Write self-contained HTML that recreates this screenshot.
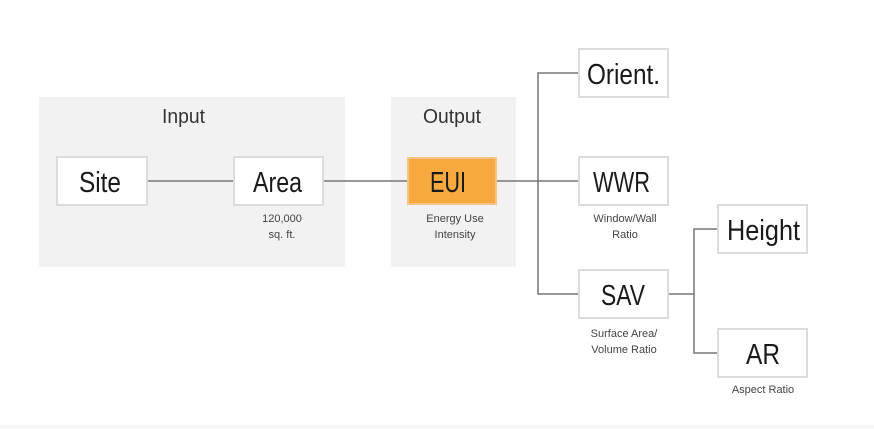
<!DOCTYPE html>
<html><head><meta charset="utf-8"><style>html,body{margin:0;padding:0;background:#fff}svg{display:block}</style></head>
<body>
<svg width="874" height="429" xmlns="http://www.w3.org/2000/svg" font-family="Liberation Sans, sans-serif">
<rect x="0" y="0" width="874" height="429" fill="#fff"/>
<rect x="0" y="425" width="874" height="4" fill="#f6f6f6"/>
<rect x="39" y="97" width="306" height="170" fill="#f2f2f2"/>
<rect x="391" y="97" width="125" height="170" fill="#f2f2f2"/>
<g stroke="#777" stroke-width="1.5" fill="none">
<line x1="147" y1="181" x2="234" y2="181"/>
<line x1="323" y1="181" x2="408" y2="181"/>
<line x1="496" y1="181" x2="579" y2="181"/>
<polyline points="579,73 538,73 538,294 579,294"/>
<line x1="668" y1="294" x2="694" y2="294"/>
<polyline points="718,229 694,229 694,353 718,353"/>
</g>
<g fill="#fff" stroke="#dcdcdc" stroke-width="2">
<rect x="57" y="157" width="90" height="48"/>
<rect x="234" y="157" width="89" height="48"/>
<rect x="579" y="49" width="89" height="48"/>
<rect x="579" y="157" width="89" height="48"/>
<rect x="579" y="270" width="89" height="48"/>
<rect x="718" y="205" width="89" height="48"/>
<rect x="718" y="329" width="89" height="48"/>
</g>
<rect x="408" y="158" width="88" height="46" fill="#f7a93e" stroke="#f3c486" stroke-width="2"/>
<g fill="#1a1a1a" font-size="29" lengthAdjust="spacingAndGlyphs">
<text x="79" y="192" textLength="42" lengthAdjust="spacingAndGlyphs">Site</text>
<text x="253" y="192" textLength="49" lengthAdjust="spacingAndGlyphs">Area</text>
<text x="430" y="192" textLength="36" lengthAdjust="spacingAndGlyphs">EUI</text>
<text x="587" y="84" textLength="73" lengthAdjust="spacingAndGlyphs">Orient.</text>
<text x="593" y="192" textLength="57" lengthAdjust="spacingAndGlyphs">WWR</text>
<text x="601" y="305" textLength="44" lengthAdjust="spacingAndGlyphs">SAV</text>
<text x="727" y="240" textLength="73" lengthAdjust="spacingAndGlyphs">Height</text>
<text x="746" y="364" textLength="34" lengthAdjust="spacingAndGlyphs">AR</text>
</g>
<g fill="#333" font-size="20">
<text x="162" y="123" textLength="43" lengthAdjust="spacingAndGlyphs">Input</text>
<text x="423" y="123" textLength="58" lengthAdjust="spacingAndGlyphs">Output</text>
</g>
<g fill="#444" font-size="11" text-anchor="middle">
<text x="282" y="222">120,000</text>
<text x="282" y="238">sq. ft.</text>
<text x="455" y="222">Energy Use</text>
<text x="455" y="238">Intensity</text>
<text x="625" y="222">Window/Wall</text>
<text x="625" y="238">Ratio</text>
<text x="624" y="337">Surface Area/</text>
<text x="624" y="353">Volume Ratio</text>
<text x="763" y="393">Aspect Ratio</text>
</g>
</svg>
</body></html>
